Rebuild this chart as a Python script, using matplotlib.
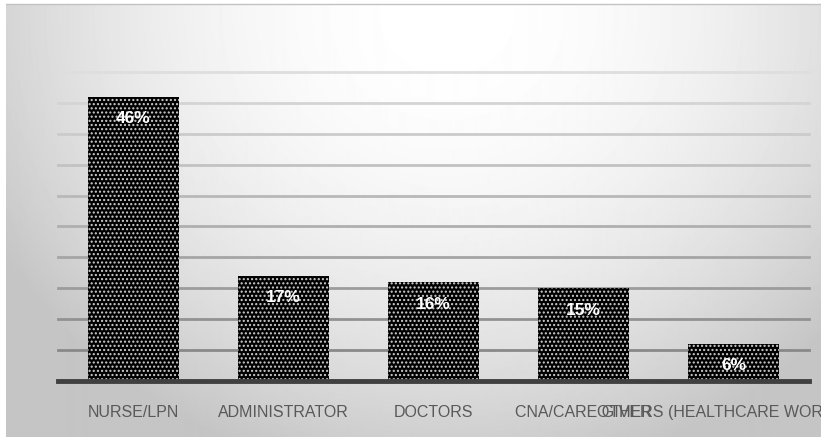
import numpy as np
import matplotlib
matplotlib.use('Agg')
import matplotlib.pyplot as plt

# data
categories = ['NURSE/LPN', 'ADMINISTRATOR', 'DOCTORS', 'CNA/CARE GIVER', 'OTHERS (HEALTHCARE WORKERS)']
values = [46, 17, 16, 15, 6]
grid_ticks = [5, 10, 15, 20, 25, 30, 35, 40, 45, 50]

plt.rcParams['font.family'] = ['Liberation Sans', 'DejaVu Sans']
plt.rcParams['hatch.linewidth'] = 1.0

W, H = 821, 437
fig = plt.figure(figsize=(W / 100, H / 100), dpi=100, facecolor='white')

# gradient background (chart area starts at x=6, y=4)
bg = fig.add_axes([6 / W, 0, 1 - 6 / W, 1 - 4 / H])
bg.set_axis_off()
yy, xx = np.mgrid[0:433, 0:815]
r2 = ((xx - 440) / 520.0) ** 2 + ((yy - 10) / 470.0) ** 2
shade = 1.0 - 0.23 * np.clip(r2, 0, 1.0)
bg.imshow(shade, cmap='gray', vmin=0, vmax=1, aspect='auto', interpolation='bilinear')
fig.add_artist(plt.Line2D([6 / W, 1], [1 - 3.5 / H, 1 - 3.5 / H], color='#c2c2c2', lw=1))

# main axes: x 58..809 px, y baseline 381 px, 50% at 72 px
ax = fig.add_axes([58 / W, (H - 381) / H, (809 - 58) / W, (381 - 72) / H])
ax.patch.set_alpha(0)
ax.set_xlim(-0.5, 4.5)
ax.set_ylim(0, 50)

for t in grid_ticks:
    f = t / 50.0
    g = 0.50 + 0.37 * f
    ax.axhline(t, color=(g, g, g), lw=2, zorder=0, clip_on=False)
ax.axhline(0, color='#404040', lw=3.5, zorder=3, clip_on=False)

x = np.arange(len(categories))
bars = ax.bar(x, values, width=0.607, color='black', edgecolor='#d0d0d0', linewidth=0,
              hatch='....', zorder=2)

for xi, v in zip(x, values):
    ax.annotate(f'{v}%', (xi, v), xytext=(0, -22), textcoords='offset pixels',
                ha='center', va='center', color='white', fontsize=12.5, fontweight='bold', zorder=4)

ax.set_xticks(x)
ax.set_xticklabels(categories, fontsize=11.5, color='#595959')
ax.tick_params(axis='x', length=0, pad=17)
ax.set_yticks([])
for s in ax.spines.values():
    s.set_visible(False)

fig.savefig('out.png', dpi=100, facecolor=fig.get_facecolor())
